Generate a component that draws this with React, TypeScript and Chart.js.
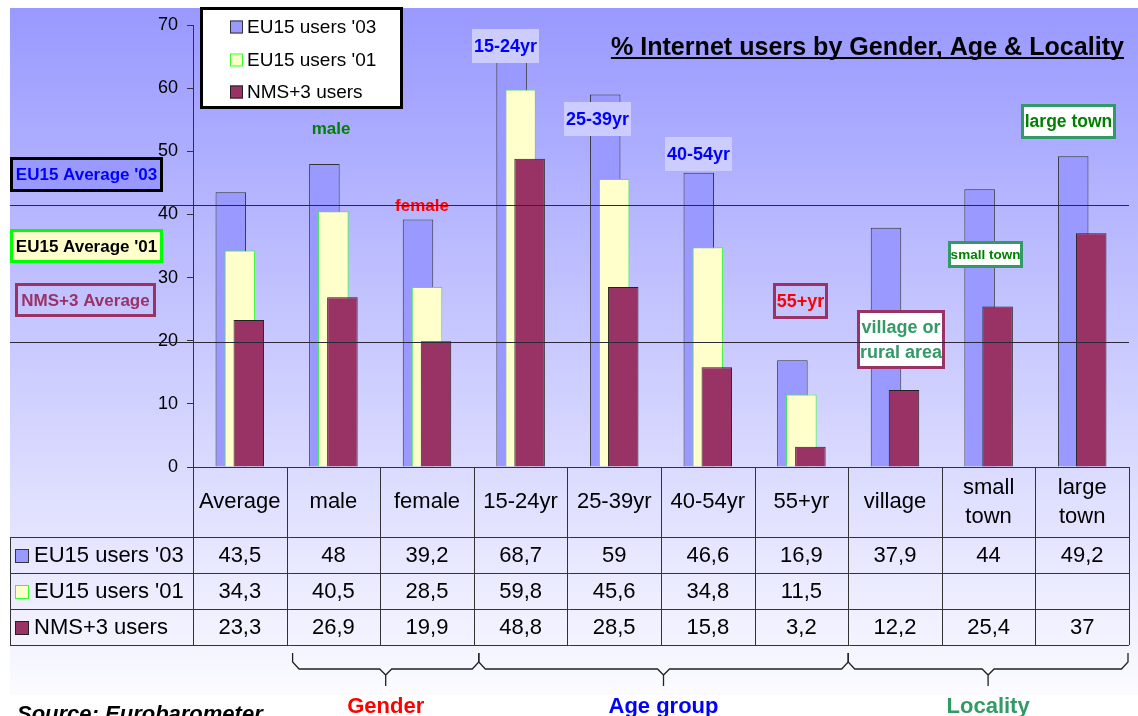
import React, { useEffect, useRef } from 'react';
import { Chart, registerables } from 'chart.js';

Chart.register(...registerables);

// ---------- data ----------
const categories = ['Average', 'male', 'female', '15-24yr', '25-39yr', '40-54yr', '55+yr', 'village', 'small town', 'large town'];
const headerLabels: string[][] = [['Average'], ['male'], ['female'], ['15-24yr'], ['25-39yr'], ['40-54yr'], ['55+yr'], ['village'], ['small', 'town'], ['large', 'town']];
const seriesNames = ["EU15 users '03", "EU15 users '01", 'NMS+3 users'];
const eu15_03: (number | null)[] = [43.5, 48, 39.2, 68.7, 59, 46.6, 16.9, 37.9, 44, 49.2];
const eu15_01: (number | null)[] = [34.3, 40.5, 28.5, 59.8, 45.6, 34.8, 11.5, null, null, null];
const nms3: (number | null)[] = [23.3, 26.9, 19.9, 48.8, 28.5, 15.8, 3.2, 12.2, 25.4, 37];
const yMin = 0;
const yMax = 70;
const yStep = 10;
const averageLines = [41.5, 19.8];
const groupNames = ['Gender', 'Age group', 'Locality'];
const groupFrom = [1, 3, 7];
const groupTo = [2, 6, 9];

// ---------- styles ----------
const FONT = '"Liberation Sans", Arial, Helvetica, sans-serif';
const seriesFill = ['#9999ff', '#ffffcc', '#993366'];
const seriesBorder = ['#333333', '#33ff33', '#222222'];
const groupColors = ['#ff0000', '#0000ff', '#339966'];
const braceInset = [[6, 5], [5, 0], [0, -1]];

type Box = {
  x: number; y: number; w: number; h: number;
  fill?: string; stroke?: string; lw?: number;
  lines: string[]; color: string; size: number; gap?: number;
};

const boxes: Box[] = [
  { x: 10, y: 157, w: 153, h: 35, fill: '#9999ff', stroke: '#000000', lw: 3, lines: ["EU15 Average '03"], color: '#0000ff', size: 17 },
  { x: 10, y: 229, w: 153, h: 34, fill: '#ffffcc', stroke: '#00ff00', lw: 3, lines: ["EU15 Average '01"], color: '#000000', size: 17 },
  { x: 15, y: 283, w: 141, h: 34, stroke: '#993366', lw: 3, lines: ['NMS+3 Average'], color: '#993366', size: 17 },
  { x: 472, y: 29, w: 67, h: 34, fill: '#ccccff', lines: ['15-24yr'], color: '#0000ff', size: 18 },
  { x: 564, y: 102, w: 67, h: 34, fill: '#ccccff', lines: ['25-39yr'], color: '#0000ff', size: 18 },
  { x: 665, y: 137, w: 67, h: 34, fill: '#ccccff', lines: ['40-54yr'], color: '#0000ff', size: 18 },
  { x: 773, y: 283, w: 55, h: 36, stroke: '#993366', lw: 3, lines: ['55+yr'], color: '#ff0000', size: 18 },
  { x: 857, y: 310, w: 88, h: 59, fill: '#ffffff', stroke: '#993366', lw: 3, lines: ['village or', 'rural area'], color: '#339966', size: 18, gap: 25 },
  { x: 948, y: 241, w: 75, h: 27, fill: '#ffffff', stroke: '#339966', lw: 3, lines: ['small town'], color: '#008000', size: 13.5 },
  { x: 1021, y: 104, w: 95, h: 35, fill: '#ffffff', stroke: '#339966', lw: 3, lines: ['large town'], color: '#008000', size: 17.5 },
];

const fmt = (v: number | null) => (v === null || v === undefined ? '' : String(v).replace('.', ','));

function text(ctx: CanvasRenderingContext2D, s: string, x: number, y: number, font: string, color: string, align: CanvasTextAlign = 'center', base: CanvasTextBaseline = 'middle', sx = 1) {
  ctx.save();
  ctx.font = font;
  ctx.fillStyle = color;
  ctx.textAlign = align;
  ctx.textBaseline = base;
  ctx.translate(x, y);
  ctx.scale(sx, 1);
  ctx.fillText(s, 0, 0);
  ctx.restore();
}

const bgPlugin = {
  id: 'bgGradient',
  beforeDraw(chart: any) {
    const ctx = chart.ctx as CanvasRenderingContext2D;
    const g = ctx.createLinearGradient(0, 8, 0, 695);
    g.addColorStop(0, '#9999ff');
    g.addColorStop(1, '#fbfbff');
    ctx.save();
    ctx.fillStyle = g;
    ctx.fillRect(10, 8, 1128, 687);
    ctx.restore();
  },
};

const orderPlugin = {
  id: 'drawOrder',
  beforeDatasetsDraw(chart: any) {
    for (let i = 0; i < chart.data.datasets.length; i++) {
      const meta = chart.getDatasetMeta(i);
      if (meta && !meta.hidden && meta.controller) meta.controller.draw();
    }
    return false;
  },
};

const decorPlugin = {
  id: 'decor',
  afterDraw(chart: any) {
    const ctx = chart.ctx as CanvasRenderingContext2D;
    const xs = chart.scales.x;
    const ys = chart.scales.y;
    const area = chart.chartArea;
    const n = categories.length;
    const cw = (area.right - area.left) / n;
    const cx = (i: number) => xs.getPixelForValue(i);
    const bnd = (i: number) => cx(i) - cw / 2;

    // ---------- table ----------
    const top = area.bottom;
    const rowTop = 537;
    const rowH = 36;
    const tabBottom = rowTop + rowH * 3;
    const leftEdge = 10;
    ctx.save();
    ctx.strokeStyle = '#333333';
    ctx.lineWidth = 1;
    ctx.beginPath();
    ctx.moveTo(area.left, top + 0.5);
    ctx.lineTo(area.right, top + 0.5);
    for (let r = 0; r <= 3; r++) {
      const y = Math.round(rowTop + r * rowH) + 0.5;
      ctx.moveTo(leftEdge, y);
      ctx.lineTo(area.right, y);
    }
    for (let i = 0; i <= n; i++) {
      const x = Math.round(i === n ? area.right : bnd(i)) + 0.5;
      ctx.moveTo(x, top);
      ctx.lineTo(x, tabBottom);
    }
    ctx.moveTo(leftEdge + 0.5, rowTop);
    ctx.lineTo(leftEdge + 0.5, tabBottom);
    ctx.stroke();
    ctx.restore();

    const tf = `22px ${FONT}`;
    headerLabels.forEach((lines, i) => {
      if (lines.length === 1) text(ctx, lines[0], cx(i), 502, tf, '#000');
      else {
        text(ctx, lines[0], cx(i), 488, tf, '#000');
        text(ctx, lines[1], cx(i), 517, tf, '#000');
      }
    });
    const rows = [eu15_03, eu15_01, nms3];
    rows.forEach((vals, r) => {
      const yc = rowTop + r * rowH + rowH / 2 + 1;
      ctx.save();
      ctx.fillStyle = seriesFill[r];
      ctx.fillRect(15, yc - 7, 14, 14);
      ctx.strokeStyle = seriesBorder[r];
      ctx.lineWidth = 1;
      ctx.strokeRect(15.5, yc - 6.5, 13, 13);
      ctx.restore();
      text(ctx, seriesNames[r], 34, yc, tf, '#000', 'left');
      vals.forEach((v, i) => text(ctx, fmt(v), cx(i), yc, tf, '#000'));
    });

    // ---------- braces ----------
    ctx.save();
    ctx.strokeStyle = '#222';
    ctx.lineWidth = 1.3;
    groupNames.forEach((name, g) => {
      const x1 = bnd(groupFrom[g]) + braceInset[g][0];
      const x2 = bnd(groupTo[g] + 1) + braceInset[g][1];
      const c = (x1 + x2) / 2;
      ctx.beginPath();
      ctx.moveTo(x1, 653);
      ctx.lineTo(x1, 662);
      ctx.lineTo(x1 + 6.5, 669);
      ctx.lineTo(c - 6, 669);
      ctx.lineTo(c, 675);
      ctx.lineTo(c + 6, 669);
      ctx.lineTo(x2 - 6.5, 669);
      ctx.lineTo(x2, 662);
      ctx.lineTo(x2, 653);
      ctx.moveTo(c, 675);
      ctx.lineTo(c, 686);
      ctx.stroke();
      text(ctx, name, c, 713, `bold 22px ${FONT}`, groupColors[g], 'center', 'alphabetic');
    });
    ctx.restore();

    // source
    text(ctx, 'Source: Eurobarometer', 17, 721, `italic bold 22px ${FONT}`, '#000', 'left', 'alphabetic');

    // ---------- annotation boxes ----------
    boxes.forEach((b) => {
      ctx.save();
      if (b.fill) {
        ctx.fillStyle = b.fill;
        ctx.fillRect(b.x, b.y, b.w, b.h);
      }
      if (b.stroke) {
        const lw = b.lw || 1;
        ctx.strokeStyle = b.stroke;
        ctx.lineWidth = lw;
        ctx.strokeRect(b.x + lw / 2, b.y + lw / 2, b.w - lw, b.h - lw);
      }
      ctx.restore();
      const mid = b.y + b.h / 2 + 1;
      const gap = b.gap || 0;
      b.lines.forEach((l, k) => {
        const y = mid + (k - (b.lines.length - 1) / 2) * gap;
        text(ctx, l, b.x + b.w / 2, y, `bold ${b.size}px ${FONT}`, b.color);
      });
    });
    text(ctx, 'male', 331, 129, `bold 17px ${FONT}`, '#008000');
    text(ctx, 'female', 422, 206, `bold 17px ${FONT}`, '#ff0000');

    // ---------- average lines ----------
    ctx.save();
    ctx.strokeStyle = '#2a2a3a';
    ctx.lineWidth = 1.2;
    averageLines.forEach((v) => {
      const y = Math.round(ys.getPixelForValue(v)) + 0.5;
      ctx.beginPath();
      ctx.moveTo(10, y);
      ctx.lineTo(area.right, y);
      ctx.stroke();
    });
    ctx.restore();

    // ---------- title ----------
    const title = '% Internet users by Gender, Age & Locality';
    ctx.save();
    ctx.font = `bold 26px ${FONT}`;
    const sx = 0.965;
    const w = ctx.measureText(title).width * sx;
    ctx.restore();
    text(ctx, title, 1124, 55, `bold 26px ${FONT}`, '#000', 'right', 'alphabetic', sx);
    ctx.save();
    ctx.fillStyle = '#000';
    ctx.fillRect(1124 - w, 57, w, 2);
    ctx.restore();

    // ---------- legend ----------
    ctx.save();
    ctx.fillStyle = '#ffffff';
    ctx.fillRect(200, 7, 203, 102);
    ctx.strokeStyle = '#000';
    ctx.lineWidth = 3;
    ctx.strokeRect(201.5, 8.5, 200, 99);
    ctx.restore();
    const ly = [27, 60, 92];
    seriesNames.forEach((s, r) => {
      ctx.save();
      ctx.fillStyle = seriesFill[r];
      ctx.fillRect(230, ly[r] - 6.5, 13, 13);
      ctx.strokeStyle = seriesBorder[r];
      ctx.lineWidth = 1;
      ctx.strokeRect(230.5, ly[r] - 6, 12, 12);
      ctx.restore();
      text(ctx, s, 247, ly[r] + 1, `19px ${FONT}`, '#000', 'left');
    });
  },
};

export default function App() {
  const ref = useRef<HTMLCanvasElement | null>(null);
  useEffect(() => {
    if (!ref.current) return;
    const common = { categoryPercentage: 0.2885, barPercentage: 3.39, borderWidth: 1 };
    const chart = new Chart(ref.current, {
      type: 'bar',
      data: {
        labels: categories,
        datasets: [
          { label: seriesNames[0], data: eu15_03, backgroundColor: seriesFill[0], borderColor: seriesBorder[0], ...common },
          { label: seriesNames[1], data: eu15_01, backgroundColor: seriesFill[1], borderColor: seriesBorder[1], ...common },
          { label: seriesNames[2], data: nms3, backgroundColor: seriesFill[2], borderColor: seriesBorder[2], ...common },
        ] as any,
      },
      options: {
        responsive: false,
        animation: false,
        devicePixelRatio: 1,
        layout: { padding: { top: 25, left: 0, right: 9, bottom: 249 } },
        plugins: { legend: { display: false }, tooltip: { enabled: false }, title: { display: false } },
        scales: {
          x: { type: 'category', display: false },
          y: {
            min: yMin,
            max: yMax,
            afterFit: (s: any) => { s.width = 193; },
            ticks: { stepSize: yStep, color: '#000', font: { family: FONT, size: 18 }, padding: 9 },
            grid: { drawOnChartArea: false, drawTicks: true, tickLength: 6, color: '#333' },
            border: { display: true, color: '#333', width: 1 },
          },
        },
      } as any,
      plugins: [bgPlugin, orderPlugin, decorPlugin],
    });
    return () => chart.destroy();
  }, []);
  return (
    <div style={{ position: 'absolute', left: 0, top: 0, width: 1138, height: 716 }}>
      <canvas ref={ref} width={1138} height={716} style={{ display: 'block', width: 1138, height: 716 }} />
    </div>
  );
}
